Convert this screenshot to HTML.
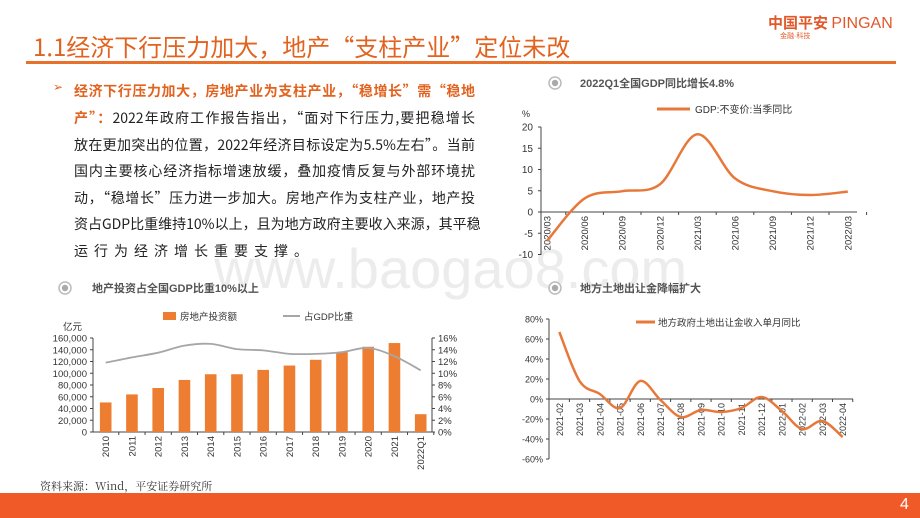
<!DOCTYPE html>
<html><head><meta charset="utf-8">
<style>
body{margin:0;width:920px;height:518px;overflow:hidden;background:#fff;font-family:"Liberation Sans","Noto Sans CJK SC",sans-serif;position:relative}
.abs{position:absolute}
.ln{position:absolute;left:74px;width:401px;font-size:14px;color:#222;text-align:justify;text-align-last:justify;white-space:nowrap;font-family:"Noto Sans CJK SC",sans-serif;line-height:20px}
svg text{font-family:"Liberation Sans","Noto Sans CJK SC",sans-serif}
</style></head><body>
<div class="abs" style="left:33px;top:28px;font-size:24px;color:#E2631F;font-family:'Noto Sans CJK SC',sans-serif;letter-spacing:0px">1.1经济下行压力加大，地产“支柱产业”定位未改</div>
<div class="abs" style="left:26px;top:61px;width:870px;height:3px;background:#E8702A"></div>
<div class="abs" style="left:768px;top:12px;font-size:15px;font-weight:bold;color:#E2582A;font-family:'Noto Sans CJK SC',sans-serif">中国平安 <span style="font-family:'Liberation Sans';font-weight:normal;font-size:16px">PINGAN</span></div>
<div class="abs" style="left:780px;top:31px;font-size:7px;color:#E2582A">金融·科技</div>
<div class="abs" style="left:214px;top:236px;font-size:56px;color:#ececec;letter-spacing:0px">www.baogao8.com</div>

<div class="abs" style="left:53px;top:80px;font-size:12px;color:#E2631F">➢</div>
<div>
<div class="ln" style="top:81px;color:#E2631F;font-weight:bold">经济下行压力加大，房地产业为支柱产业，“稳增长”需“稳地</div>
<div class="ln" style="top:108px"><span style="color:#E2631F;font-weight:bold">产”：</span>2022年政府工作报告指出，“面对下行压力,要把稳增长</div>
<div class="ln" style="top:135px">放在更加突出的位置，2022年经济目标设定为5.5%左右”。当前</div>
<div class="ln" style="top:161px">国内主要核心经济指标增速放缓，叠加疫情反复与外部环境扰</div>
<div class="ln" style="top:188px">动，“稳增长”压力进一步加大。房地产作为支柱产业，地产投</div>
<div class="ln" style="top:214px">资占GDP比重维持10%以上，且为地方政府主要收入来源，其平稳</div>
<div class="ln" style="top:241px;text-align-last:left;letter-spacing:6px">运行为经济增长重要支撑。</div>
</div>

<svg class="abs" style="left:0;top:0" width="920" height="518">
<g>
<circle cx="555" cy="83" r="6" fill="#fff" stroke="#bbb" stroke-width="1.5"/><circle cx="555" cy="83" r="3.2" fill="#aaa"/>
<text x="580" y="87" font-size="11" font-weight="bold" fill="#555">2022Q1全国GDP同比增长4.8%</text></g>
<g>
<circle cx="65" cy="288" r="6" fill="#fff" stroke="#bbb" stroke-width="1.5"/><circle cx="65" cy="288" r="3.2" fill="#aaa"/>
<text x="92" y="292" font-size="11" font-weight="bold" fill="#555">地产投资占全国GDP比重10%以上</text></g>
<g>
<circle cx="555" cy="288" r="6" fill="#fff" stroke="#bbb" stroke-width="1.5"/><circle cx="555" cy="288" r="3.2" fill="#aaa"/>
<text x="580" y="292" font-size="11" font-weight="bold" fill="#555">地方土地出让金降幅扩大</text></g>
<g id="c1"></g><g id="c2"></g><g id="c3"></g>
</svg>

<div class="abs" style="left:40px;top:478px;font-size:11px;color:#333;font-family:'Noto Serif CJK SC',serif">资料来源：Wind，平安证券研究所</div>
<div class="abs" style="left:0;top:493px;width:920px;height:25px;background:#F05A28"></div>
<div class="abs" style="left:900px;top:496px;font-size:16px;color:#fff">4</div>

<script>
// Chart 1: GDP
const gdpCats=["2020/03","2020/06","2020/09","2020/12","2021/03","2021/06","2021/09","2021/12","2022/03"];
const gdpVals=[-6.8,3.2,4.9,6.5,18.3,7.9,4.9,4.0,4.8];
const gdpTicks=[-10,-5,0,5,10,15,20];
// Chart 2: real estate investment
const reCats=["2010","2011","2012","2013","2014","2015","2016","2017","2018","2019","2020","2021","2022Q1"];
const reInvest=[50300,64000,74900,88600,98300,98300,105700,113100,122900,136000,145100,151400,30300];
const reShare=[11.8,12.7,13.5,14.7,15.0,14.1,13.9,13.3,13.3,13.6,14.3,12.9,10.5];
const reLeftTicks=[0,20000,40000,60000,80000,100000,120000,140000,160000];
const reRightTicks=[0,2,4,6,8,10,12,14,16];
// Chart 3: land sales
const landCats=["2021-02","2021-03","2021-04","2021-05","2021-06","2021-07","2021-08","2021-09","2021-10","2021-11","2021-12","2022-01","2022-02","2022-03","2022-04"];
const landVals=[67,18,5,-9,18,-1,-18,-11,-13,-9,2,-12,-30,-22,-38];
const landTicks=[-60,-40,-20,0,20,40,60,80];

const NS="http://www.w3.org/2000/svg";
function mk(p,tag,a,txt){const e=document.createElementNS(NS,tag);for(const k in a)e.setAttribute(k,a[k]);if(txt!==undefined)e.textContent=txt;p.appendChild(e);return e;}
function smooth(pts){let d="M"+pts[0][0]+","+pts[0][1];for(let i=0;i<pts.length-1;i++){const p0=pts[i-1]||pts[i],p1=pts[i],p2=pts[i+1],p3=pts[i+2]||p2;const t=6;d+=" C"+(p1[0]+(p2[0]-p0[0])/t)+","+(p1[1]+(p2[1]-p0[1])/t)+" "+(p2[0]-(p3[0]-p1[0])/t)+","+(p2[1]-(p3[1]-p1[1])/t)+" "+p2[0]+","+p2[1];}return d;}
const OR="#E8783A";

// chart1
(function(){const g=document.getElementById('c1');
const y=v=>212-v*4.25, x=i=>547+i*37.6;
mk(g,'line',{x1:541,y1:127,x2:541,y2:255,stroke:'#444','stroke-width':1});
mk(g,'line',{x1:541,y1:212,x2:857,y2:212,stroke:'#444','stroke-width':1});
gdpTicks.forEach(t=>{mk(g,'line',{x1:538,y1:y(t),x2:541,y2:y(t),stroke:'#444'});const e=mk(g,'text',{x:533,y:y(t)+3.5,'font-size':10,'text-anchor':'end',fill:'#333'},t);});
mk(g,'text',{x:522,y:117,'font-size':9,fill:'#333'},'%');
gdpCats.forEach((c,i)=>{mk(g,'line',{x1:x(i)+18.8,y1:212,x2:x(i)+18.8,y2:215,stroke:'#444'});const e=mk(g,'text',{transform:`translate(${x(i)+3.5},${216}) rotate(-90)`,'font-size':9.5,'text-anchor':'end',fill:'#333'},c);});
const p=mk(g,'path',{d:smooth(gdpVals.map((v,i)=>[x(i),y(v)])),fill:'none',stroke:OR,'stroke-width':2.5});

mk(g,'line',{x1:657,y1:109,x2:690,y2:109,stroke:OR,'stroke-width':3});
mk(g,'text',{x:695,y:113,'font-size':10,fill:'#333'},'GDP:不变价:当季同比');
})();

// chart2
(function(){const g=document.getElementById('c2');
const yL=v=>432-v/160000*94, yR=v=>432-v/16*94, x=i=>105.7+i*26.25;
mk(g,'line',{x1:93,y1:338,x2:93,y2:432,stroke:'#444'});
mk(g,'line',{x1:432,y1:338,x2:432,y2:432,stroke:'#444'});
mk(g,'line',{x1:93,y1:432,x2:432,y2:432,stroke:'#444'});
reLeftTicks.forEach(t=>{mk(g,'line',{x1:90,y1:yL(t),x2:93,y2:yL(t),stroke:'#444'});const e=mk(g,'text',{x:87,y:yL(t)+3.5,'font-size':9.5,'text-anchor':'end',fill:'#333'},t.toLocaleString('en-US'));});
reRightTicks.forEach(t=>{mk(g,'line',{x1:432,y1:yR(t),x2:435,y2:yR(t),stroke:'#444'});const e=mk(g,'text',{x:438,y:yR(t)+3.5,'font-size':9.5,fill:'#333'},t+'%');});
mk(g,'text',{x:63,y:330,'font-size':9.5,fill:'#333'},'亿元');
reCats.forEach((c,i)=>{const r=mk(g,'rect',{x:x(i)-5.8,y:yL(reInvest[i]),width:11.6,height:432-yL(reInvest[i]),fill:'#ED7D31'});
mk(g,'line',{x1:x(i)+13.1,y1:432,x2:x(i)+13.1,y2:435,stroke:'#444'});
const e=mk(g,'text',{transform:`translate(${x(i)+3.5},${436}) rotate(-90)`,'font-size':9.5,'text-anchor':'end',fill:'#333'},c);});
const p=mk(g,'path',{d:smooth(reShare.map((v,i)=>[x(i),yR(v)])),fill:'none',stroke:'#A6A6A6','stroke-width':1.8});

mk(g,'rect',{x:163,y:312,width:13,height:8,fill:'#ED7D31'});
mk(g,'text',{x:180,y:320,'font-size':9.5,fill:'#333'},'房地产投资额');
mk(g,'line',{x1:283,y1:316,x2:300,y2:316,stroke:'#A6A6A6','stroke-width':2});
mk(g,'text',{x:304,y:320,'font-size':9.5,fill:'#333'},'占GDP比重');
})();

// chart3
(function(){const g=document.getElementById('c3');
const y=v=>399-v, x=i=>559.3+i*20.24;
mk(g,'line',{x1:549,y1:319,x2:549,y2:459,stroke:'#444'});
mk(g,'line',{x1:549,y1:399,x2:853,y2:399,stroke:'#444'});
landTicks.forEach(t=>{mk(g,'line',{x1:546,y1:y(t),x2:549,y2:y(t),stroke:'#444'});const e=mk(g,'text',{x:543,y:y(t)+3.5,'font-size':9,'text-anchor':'end',fill:'#333'},t+'%');});
landCats.forEach((c,i)=>{mk(g,'line',{x1:x(i)+10.1,y1:399,x2:x(i)+10.1,y2:402,stroke:'#444'});const e=mk(g,'text',{transform:`translate(${x(i)+3.5},${403}) rotate(-90)`,'font-size':9,'text-anchor':'end',fill:'#333'},c);});
const p=mk(g,'path',{d:smooth(landVals.map((v,i)=>[x(i),y(v)])),fill:'none',stroke:OR,'stroke-width':2.5});

mk(g,'line',{x1:636,y1:322,x2:655,y2:322,stroke:OR,'stroke-width':3});
mk(g,'text',{x:658,y:326,'font-size':9.5,fill:'#333'},'地方政府土地出让金收入单月同比');
})();
</script>
</body></html>
